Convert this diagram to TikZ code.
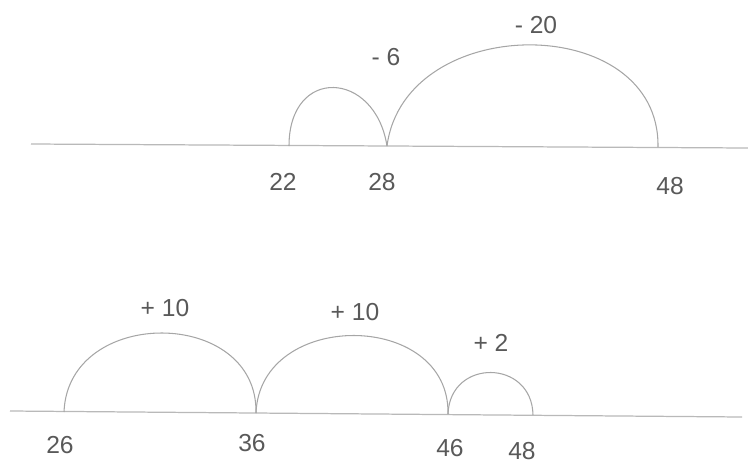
\documentclass[tikz,border=0pt]{standalone}
\usepackage{fontspec}
\setmainfont{Liberation Sans}
\tikzset{
  numline/.style={gray!55, line width=0.7pt},
  jump/.style={gray!70, line width=0.6pt},
  pen/.style={text=black!65, font=\fontsize{14}{16}\selectfont, inner sep=1pt}
}
\begin{document}
\begin{tikzpicture}[x=0.02cm, y=-0.02cm]
    \useasboundingbox (0,0) rectangle (748,464);

    % Subtraction: 48 back to 22
    \coordinate (t0) at (31,144);
    \coordinate (t1) at (748,148);
    \coordinate (a22) at (289,146);
    \coordinate (a28) at (387,146);
    \coordinate (a48) at (658,147);
    \draw[numline] (t0) -- (t1);
    \draw[jump] (a22) .. controls +(0,-80) and +(-12,-76) .. (a28);
    \draw[jump] (a28) .. controls +(18,-135) and +(2,-136) .. (a48);
    \node[pen] (m6) at (386,57) {- 6};
    \node[pen] (m20) at (536,25) {- 20};
    \node[pen] (n22) at (283,182) {22};
    \node[pen] (n28) at (382,182) {28};
    \node[pen] (n48) at (670,186) {48};

    % Addition: 26 up to 48
    \coordinate (s0) at (10,411);
    \coordinate (s1) at (742,417);
    \coordinate (b26) at (64,412);
    \coordinate (b36) at (256,413);
    \coordinate (b46) at (448,414);
    \coordinate (b48) at (533,415);
    \draw[numline] (s0) -- (s1);
    \draw[jump] (b26) .. controls +(4,-106) and +(2,-106) .. (b36);
    \draw[jump] (b36) .. controls +(4,-104) and +(2,-104) .. (b46);
    \draw[jump] (b46) .. controls +(2,-56) and +(-1,-56) .. (b48);
    \node[pen] (p10a) at (165,308) {+ 10};
    \node[pen] (p10b) at (355,312) {+ 10};
    \node[pen] (p2) at (491,343) {+ 2};
    \node[pen] (n26) at (60,445) {26};
    \node[pen] (n36) at (252,443) {36};
    \node[pen] (n46) at (450,448) {46};
    \node[pen] (n48b) at (522,451) {48};
\end{tikzpicture}
\end{document}
